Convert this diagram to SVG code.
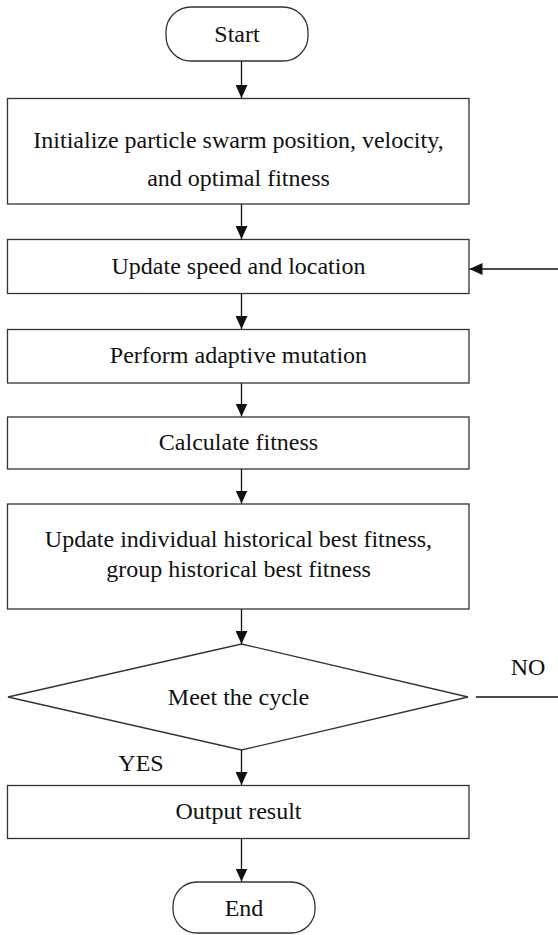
<svg xmlns="http://www.w3.org/2000/svg" width="558" height="935" viewBox="0 0 558 935">
<defs>
<style>
.box{fill:#fff;stroke:#333;stroke-width:1.3}
.t{font-family:"Liberation Serif","Times New Roman",serif;font-size:24px;fill:#111;text-anchor:middle}
.ln{fill:none;stroke:#111;stroke-width:1.3}
</style>
<marker id="ah" markerUnits="userSpaceOnUse" markerWidth="13" markerHeight="12" viewBox="0 0 13 12" refX="13" refY="6" orient="auto">
<path d="M0,0 L13,6 L0,12 Z" fill="#111"/>
</marker>
</defs>
<rect width="558" height="935" fill="#fff"/>
<g id="connectors">
<line class="ln" x1="241.5" y1="61" x2="241.5" y2="98" marker-end="url(#ah)"/>
<line class="ln" x1="241.5" y1="204" x2="241.5" y2="239" marker-end="url(#ah)"/>
<line class="ln" x1="241.5" y1="293.5" x2="241.5" y2="329" marker-end="url(#ah)"/>
<line class="ln" x1="241.5" y1="383" x2="241.5" y2="416.5" marker-end="url(#ah)"/>
<line class="ln" x1="241.5" y1="469" x2="241.5" y2="503.5" marker-end="url(#ah)"/>
<line class="ln" x1="241.5" y1="609" x2="241.5" y2="644" marker-end="url(#ah)"/>
<line class="ln" x1="241.5" y1="750" x2="241.5" y2="785" marker-end="url(#ah)"/>
<line class="ln" x1="241.5" y1="838.5" x2="241.5" y2="881.5" marker-end="url(#ah)"/>
<line class="ln" x1="476" y1="697" x2="558" y2="697"/>
<line class="ln" x1="558" y1="269" x2="469.5" y2="269" marker-end="url(#ah)"/>
<text class="t" x="528" y="675">NO</text>
<text class="t" x="141" y="771">YES</text>
</g>
<g id="start">
<rect class="box" x="166" y="7" width="142" height="54" rx="25"/>
<text class="t" x="237" y="42">Start</text>
</g>
<g id="init">
<rect class="box" x="7.5" y="98.5" width="461.5" height="105.5"/>
<text class="t" x="238.5" y="148">Initialize particle swarm position, velocity,</text>
<text class="t" x="238.5" y="186">and optimal fitness</text>
</g>
<g id="update">
<rect class="box" x="7.5" y="239.5" width="461.5" height="54"/>
<text class="t" x="238.5" y="274">Update speed and location</text>
</g>
<g id="mutation">
<rect class="box" x="7.5" y="329.5" width="461.5" height="53.5"/>
<text class="t" x="238.5" y="363">Perform adaptive mutation</text>
</g>
<g id="fitness">
<rect class="box" x="7.5" y="417" width="461.5" height="52"/>
<text class="t" x="238.5" y="450">Calculate fitness</text>
</g>
<g id="best">
<rect class="box" x="7.5" y="504" width="461.5" height="105"/>
<text class="t" x="238.5" y="547">Update individual historical best fitness,</text>
<text class="t" x="238.5" y="577">group historical best fitness</text>
</g>
<g id="decision">
<polygon class="box" points="241.5,644 468,697 241.5,750 8,697"/>
<text class="t" x="238.5" y="705">Meet the cycle</text>
</g>
<g id="output">
<rect class="box" x="7.5" y="785.5" width="461.5" height="53"/>
<text class="t" x="238.5" y="819">Output result</text>
</g>
<g id="end">
<rect class="box" x="173" y="882" width="142" height="51" rx="24"/>
<text class="t" x="244" y="916">End</text>
</g>
</svg>
